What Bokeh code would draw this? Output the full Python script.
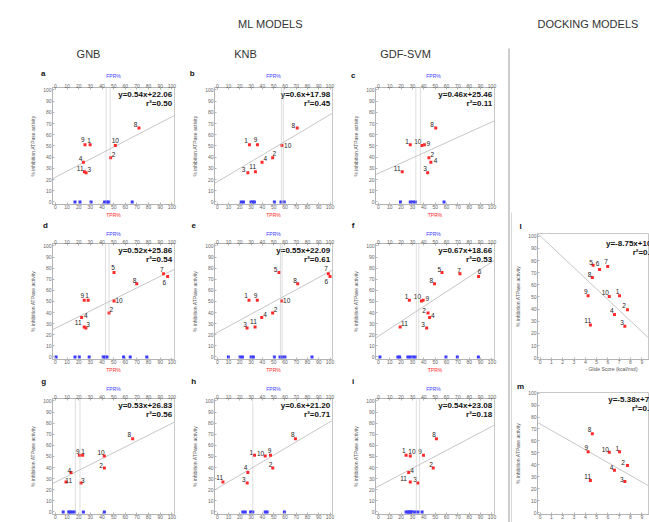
from bokeh.plotting import figure
from bokeh.layouts import row, column
from bokeh.models import Range1d, LinearAxis, Span, FixedTicker, ColumnDataSource
from bokeh.embed import file_html
from bokeh.resources import INLINE
from bokeh.core.properties import value

# ---------------- data ----------------
compounds = ["1", "2", "3", "4", "5", "6", "7", "8", "9", "10", "11"]
inhibition = [51, 39.5, 26, 35.5, 76, 72.5, 75, 66, 51, 50.5, 27]   # % inhibition ATPase activity
glide_score = [7.03, 7.73, 7.5, 6.58, 4.69, 5.26, 5.98, 4.62, 4.25, 6.12, 4.45]  # - Glide Score (kcal/mol)

a_ids = ["9", "1", "4", "11", "3", "10", "2", "8"]
a_tpr = [25.4, 29.8, 24.0, 24.9, 26.3, 51.4, 47.4, 71.7]
a_fpr = [16.8, 21.1, 30.6, 42.2, 44.2, 45.7, 65.9]
a_cut = [43.5, 47.0]
a_fit = [0.54, 22.06]
a_r2 = "0.50"

b_ids = ["1", "9", "3", "11", "4", "2", "10", "8"]
b_tpr = [28.5, 35.6, 27.1, 33.8, 39.7, 49.1, 57.4, 70.9]
b_fpr = [21.2, 23.2, 29.9, 31.5, 32.9, 50.6, 56.5, 59.4]
b_cut = [57.0, 58.6]
b_fit = [0.6, 17.98]
b_r2 = "0.45"

c_ids = ["8", "1", "10", "9", "2", "4", "3", "11"]
c_tpr = [50.5, 28.1, 38.2, 40.5, 44.5, 46.2, 43.4, 21.0]
c_fpr = [19.5, 28.1, 30.2, 32.5, 57.8]
c_cut = [33.0, 37.0]
c_fit = [0.46, 25.46]
c_r2 = "0.11"

d_ids = ["9", "1", "4", "11", "3", "5", "10", "2", "8", "7", "6"]
d_tpr = [24.7, 28.1, 22.5, 24.7, 26.1, 50.3, 50.3, 46.0, 69.8, 92.8, 96.3]
d_fpr = [0.6, 16.8, 20.5, 29.0, 41.0, 42.6, 44.3, 58.5, 64.2, 78.4]
d_cut = [43.0, 46.0]
d_fit = [0.52, 25.86]
d_r2 = "0.54"

e_ids = ["5", "7", "6", "8", "1", "9", "10", "4", "2", "3", "11"]
e_tpr = [54.7, 98.5, 100.0, 71.3, 28.1, 35.5, 57.1, 39.4, 49.1, 26.4, 33.5]
e_fpr = [9.8, 20.2, 22.3, 30.0, 32.0, 50.6, 55.6, 57.7, 60.0, 84.0]
e_cut = [56.0, 57.5]
e_fit = [0.55, 22.09]
e_r2 = "0.61"

f_ids = ["5", "7", "6", "8", "1", "10", "9", "2", "4", "3", "11"]
f_tpr = [56.0, 71.8, 88.2, 49.4, 27.3, 37.9, 39.4, 43.7, 45.1, 42.5, 19.2]
f_fpr = [1.4, 17.2, 18.7, 26.0, 28.0, 30.5, 32.5, 59.5, 69.5, 88.0]
f_cut = [33.4, 35.6]
f_fit = [0.67, 18.66]
f_r2 = "0.53"

g_ids = ["9", "1", "4", "11", "3", "10", "2", "8"]
g_tpr = [20.6, 23.4, 13.4, 9.1, 22.0, 42.0, 42.0, 66.3]
g_fpr = [6.7, 11.4, 12.6, 14.3, 16.3, 24.0, 42.0]
g_cut = [17.1, 21.1]
g_fit = [0.53, 26.83]
g_r2 = "0.56"

h_ids = ["11", "3", "4", "1", "10", "9", "2", "8"]
h_tpr = [5.0, 26.5, 27.1, 33.0, 42.5, 47.2, 49.2, 69.3]
h_fpr = [22.7, 24.8, 29.5, 31.5, 42.5, 44.2, 59.5]
h_cut = [31.5]
h_fit = [0.6, 21.20]
h_r2 = "0.71"

i_ids = ["1", "10", "9", "8", "2", "4", "11", "3"]
i_tpr = [24.4, 28.1, 39.7, 51.1, 48.3, 26.7, 28.1, 34.7]
i_fpr = [24.4, 26.0, 27.0, 28.0, 29.0, 30.0, 32.5, 35.0, 38.5]
i_cut = [33.4, 36.3]
i_fit = [0.54, 23.08]
i_r2 = "0.18"

l_ids = ["5", "6", "7", "8", "9", "10", "1", "2", "4", "3", "11"]
l_fit = [-8.75, 100.3]
l_r2 = "0.55"
m_ids = ["8", "9", "10", "1", "2", "4", "3", "11"]
m_fit = [-5.38, 74.2]
m_r2 = "0.32"

ml_ticks = [0, 10, 20, 30, 40, 50, 60, 70, 80, 90, 100]
dock_xticks = [0, 1, 2, 3, 4, 5, 6, 7, 8, 9, 10]

ML_PANELS = {
    "a": (a_ids, a_tpr, a_fpr, a_cut, a_fit, a_r2),
    "b": (b_ids, b_tpr, b_fpr, b_cut, b_fit, b_r2),
    "c": (c_ids, c_tpr, c_fpr, c_cut, c_fit, c_r2),
    "d": (d_ids, d_tpr, d_fpr, d_cut, d_fit, d_r2),
    "e": (e_ids, e_tpr, e_fpr, e_cut, e_fit, e_r2),
    "f": (f_ids, f_tpr, f_fpr, f_cut, f_fit, f_r2),
    "g": (g_ids, g_tpr, g_fpr, g_cut, g_fit, g_r2),
    "h": (h_ids, h_tpr, h_fpr, h_cut, h_fit, h_r2),
    "i": (i_ids, i_tpr, i_fpr, i_cut, i_fit, i_r2),
}

# ---------------- style (label nudges in screen px) ----------------
NUDGE = {
    "a": {"9": (-2.3, -5), "1": (-1, -4.7), "4": (-2.7, -3.7), "11": (-4.3, -3.3), "3": (3.3, -3.3),
          "10": (0, -5.3), "2": (3, -3), "8": (-3.3, -3.7)},
    "b": {"1": (-3.3, -4), "9": (-2, -5), "3": (-4.3, -3), "11": (-2.7, -4.7), "4": (3.3, -4),
          "2": (1.7, -4.7), "10": (5.7, 0), "8": (-4, -2.7)},
    "c": {"8": (-3.7, -3.3), "1": (-3.3, -3.3), "10": (-4, -4.3), "9": (4, -1.7), "2": (3.3, -3.3),
          "4": (4.7, -1.3), "3": (-2.7, -4.3), "11": (-5, -3)},
    "d": {"9": (-2, -4.5), "1": (-1, -4.5), "4": (4.3, -1.7), "11": (-6, -4.7), "3": (2.3, -3.3),
          "5": (-1, -5), "10": (5, 0), "2": (2.3, -3.3), "8": (-2.3, -3.3), "7": (-1.7, -3.7), "6": (-3.3, 5.7)},
    "e": {"5": (-3.3, -3.3), "7": (-2.3, -5), "6": (-3.7, 5), "8": (-2.7, -3.3), "1": (-3, -5),
          "9": (-1.7, -5), "10": (5, -0.7), "4": (3.3, -3), "2": (3, -3.3), "3": (-2, -4), "11": (-1.7, -5)},
    "f": {"5": (-2.7, -3), "7": (-1, -3.3), "6": (1, -4.7), "8": (-3.3, -3.3), "1": (-2.7, -4),
          "10": (-4, -4), "9": (4.3, -1.7), "2": (-4, -2.7), "4": (3.3, -2.3), "3": (-3.7, -4), "11": (4.3, -3.7)},
    "g": {"9": (-1.7, -4), "1": (0.5, -4), "4": (-1.7, -2.3), "11": (2.7, -1.7), "3": (1.7, -2.7),
          "10": (-3.3, -3.3), "2": (-3.3, -2.7), "8": (-3.3, -4)},
    "h": {"11": (-3.3, -4.3), "3": (-3.3, -3.3), "4": (-2.3, -5), "1": (-3.3, -2.7), "10": (-4.7, -2.7),
          "9": (-1, -5), "2": (-2.3, -4), "8": (-2.7, -3.7)},
    "i": {"1": (-2.3, -5), "10": (1.7, -4), "9": (-3.3, -4), "8": (-2.3, -4), "2": (-2.3, -3.3),
          "4": (3.3, -2.3), "11": (-6.7, -3.3), "3": (-2.7, -4)},
    "l": {"5": (-2, -3.3), "6": (-2, -5.7), "7": (-1.7, -4.7), "8": (-2.7, -3.3), "9": (-2.3, -4),
          "10": (-4, -3.7), "1": (-2, -4.7), "2": (-3.3, -4), "4": (-2.7, -3.7), "3": (-2.7, -3.3), "11": (-2.7, -4.7)},
    "m": {"8": (-2.7, -4), "9": (-1.7, -4), "10": (-4, -3), "1": (-2.3, -3.3), "2": (-4.3, -3.3),
          "4": (-3, -2.7), "3": (-3, -2), "11": (-2.7, -3.7)},
}

FONT = "Liberation Sans"
RED = "#ff2b2b"
BLUE = "#3b3bff"
AXIS_C = "#b4b4b4"
TICK_C = "#666666"
LINE_C = "#c6c6c6"
TXT_C = "#222222"
XR = (-2.5, 102.2)
YR = (-2.3, 102.2)


def make_axis(ticks, label, color, standoff, lab_std):
    ax = LinearAxis(ticker=FixedTicker(ticks=ticks), axis_label=label)
    ax.axis_line_color = AXIS_C
    ax.major_tick_line_color = AXIS_C
    ax.major_tick_in = 2
    ax.major_tick_out = 0
    ax.minor_tick_line_color = None
    ax.major_label_text_font = FONT
    ax.major_label_text_font_size = "5px"
    ax.major_label_text_color = TICK_C
    ax.major_label_standoff = lab_std
    ax.axis_label_text_font = FONT
    ax.axis_label_text_font_size = "5px"
    ax.axis_label_text_font_style = "normal"
    ax.axis_label_text_color = color
    ax.axis_label_standoff = standoff
    return ax


def base_fig(w, h, xr, yr, bl, br, bt, bb):
    p = figure(width=w, height=h, output_backend="svg", toolbar_location=None,
               x_range=Range1d(*xr), y_range=Range1d(*yr),
               x_axis_location=None, y_axis_location=None,
               min_border_left=bl, min_border_right=br, min_border_top=bt, min_border_bottom=bb)
    p.grid.visible = False
    p.outline_line_color = "#c8c8c8"
    p.background_fill_color = "white"
    p.border_fill_color = "white"
    return p


def add_points(p, key, ids, xs):
    ys = [inhibition[compounds.index(c)] for c in ids]
    src = ColumnDataSource(dict(x=xs, y=ys, t=ids,
                                dx=[NUDGE[key][c][0] for c in ids],
                                dy=[NUDGE[key][c][1] for c in ids]))
    p.scatter("x", "y", source=src, marker="square", size=3, fill_color=RED, line_color=None)
    p.text("x", "y", text="t", source=src, x_offset="dx", y_offset="dy",
           text_font=value(FONT), text_font_size="6.5px", text_color=TXT_C,
           text_align="center", text_baseline="middle")


def ml_panel(key, w, h, bl, br, bt, bb, bottom_label):
    ids, tpr, fpr, cut, fit, r2 = ML_PANELS[key]
    p = base_fig(w, h, XR, YR, bl, br, bt, bb)
    p.add_layout(make_axis(ml_ticks, None, BLUE, 0, 0), "above")
    p.add_layout(make_axis(ml_ticks, "TPR%" if bottom_label else None, RED, 0, 0), "below")
    p.add_layout(make_axis(ml_ticks, "% inhibition ATPase activity", "#555555", 4, 1), "left")
    for c in cut:
        p.add_layout(Span(location=c, dimension="height", line_color="#bdbdbd",
                          line_dash="1 1", line_width=1))
    p.line([XR[0], XR[1]], [fit[0] * XR[0] + fit[1], fit[0] * XR[1] + fit[1]],
           line_color=LINE_C, line_width=1)
    p.scatter(fpr, [0] * len(fpr), marker="square", size=3, fill_color=BLUE, line_color=None)
    add_points(p, key, ids, tpr)
    eq = "y=%sx+%.2f" % (("%g" % fit[0]), fit[1])
    p.text([101.5], [101.5], text=[eq], x_offset=-1.6, y_offset=5.8,
           text_font=value(FONT), text_font_size="8px", text_font_style="bold",
           text_color="#111111", text_align="right", text_baseline="middle")
    p.text([101.5], [101.5], text=["r\u00b2=" + r2], x_offset=-1.6, y_offset=15.2,
           text_font=value(FONT), text_font_size="8px", text_font_style="bold",
           text_color="#111111", text_align="right", text_baseline="middle")
    return p


DXR = (-0.23, 9.68)


def dock_panel(key, ids, fit, r2, h, bt, bb, yr, eq_pos, r2_pos):
    p = base_fig(137, h, DXR, yr, 22, 0, bt, bb)
    p.add_layout(make_axis(ml_ticks, "% inhibition ATPase activity", "#555555", 4, 1), "left")
    p.add_layout(make_axis(dock_xticks, None, TICK_C, 0, 0), "below")
    p.line([DXR[0], DXR[1]], [fit[0] * DXR[0] + fit[1], fit[0] * DXR[1] + fit[1]],
           line_color=LINE_C, line_width=1)
    xs = [glide_score[compounds.index(c)] for c in ids]
    add_points(p, key, ids, xs)
    eq = "y=%.2fx+%.1f" % (fit[0], fit[1])
    p.text([eq_pos[0]], [eq_pos[1]], text=[eq], text_font=value(FONT), text_font_size="8px",
           text_font_style="bold", text_color="#111111", text_align="left", text_baseline="middle")
    p.text([r2_pos[0]], [r2_pos[1]], text=["r\u00b2=" + r2], text_font=value(FONT), text_font_size="8px",
           text_font_style="bold", text_color="#111111", text_align="left", text_baseline="middle")
    return p


def blank(w, h):
    p = figure(width=w, height=h, output_backend="svg", toolbar_location=None,
               x_range=Range1d(0, w), y_range=Range1d(h, 0),
               x_axis_location=None, y_axis_location=None, min_border=0,
               min_border_left=0, min_border_right=0, min_border_top=0, min_border_bottom=0)
    try:
        p.frame_align = False          # keep this text strip out of the frame alignment
    except Exception:
        pass
    p.grid.visible = False
    p.outline_line_color = None
    p.background_fill_color = "white"
    p.border_fill_color = "white"
    return p


def put_text(p, x, y, txt, size="11px", color="#333333", align="center", style="normal"):
    p.text([x], [y], text=[txt], text_font=value(FONT), text_font_size=size,
           text_color=color, text_align=align, text_baseline="middle", text_font_style=style)


def strip(w, h, letter, lx, ly, fx, fy):
    s = blank(w, h)
    put_text(s, lx, ly, letter, size="8px", color="#111111", style="bold")
    put_text(s, fx, fy, "FPR%", size="5px", color=BLUE)
    return s


# ---------------- headers ----------------
h1 = blank(188, 64)
put_text(h1, 88, 53, "GNB")
h2 = blank(162, 64)
put_text(h2, 82, 23, "ML MODELS")
put_text(h2, 57, 53, "KNB")
h3 = blank(153, 64)
put_text(h3, 55, 53, "GDF-SVM")

h4 = blank(137, 230)
put_text(h4, 25, 23, "DOCKING MODELS", align="left")
put_text(h4, 8, 226, "l", size="8px", color="#111111", style="bold")

sep = blank(9, 522)
sep.segment([5.5], [48], [5.5], [522], line_color="#9a9a9a", line_width=1)
sep.segment([8.5], [212], [8.5], [522], line_color="#b0b0b0", line_width=1)

# ---------------- ML panels ----------------
s_a = strip(188, 16, "a", 42.7, 9.3, 113, 11)
s_b = strip(162, 16, "b", 3.7, 9.3, 85, 11)
s_c = strip(153, 16, "c", 2.7, 11, 83, 11)
pa = ml_panel("a", 188, 140, 52, 14, 7, 16, True)
pb = ml_panel("b", 162, 140, 26, 18, 7, 16, True)
pc = ml_panel("c", 153, 140, 22, 9, 7, 16, True)

s_d = strip(188, 16, "d", 45, 5, 113, 13.5)
s_e = strip(162, 16, "e", 5.3, 5, 85, 13.5)
s_f = strip(153, 16, "f", 2.7, 5, 83, 13.5)
pd = ml_panel("d", 188, 140, 52, 14, 6, 17, True)
pe = ml_panel("e", 162, 140, 26, 18, 6, 17, True)
pf = ml_panel("f", 153, 140, 22, 9, 6, 17, True)

s_g = strip(188, 15, "g", 43.3, 5, 113, 12.8)
s_h = strip(162, 15, "h", 5.3, 5, 85, 12.8)
s_i = strip(153, 15, "i", 2.7, 5, 83, 12.8)
pg = ml_panel("g", 188, 131, 52, 14, 6, 8, False)
ph = ml_panel("h", 162, 131, 26, 18, 6, 8, False)
pi = ml_panel("i", 153, 131, 22, 9, 6, 8, False)

# ---------------- docking panels ----------------
pl = dock_panel("l", l_ids, l_fit, l_r2, 136, 3, 7, (-1.4, 102.2), (5.83, 94.2), (8.19, 86.6))
s_lm = blank(137, 24)
put_text(s_lm, 99, 2.9, "- Glide Score (kcal/mol)", size="5px", color="#555555")
put_text(s_lm, 8, 19.7, "m", size="8px", color="#111111", style="bold")
pm = dock_panel("m", m_ids, m_fit, m_r2, 132, 2, 8, (-1.5, 100.5), (6.03, 95.0), (8.13, 87.5))

layout = row(column(h1, s_a, pa, s_d, pd, s_g, pg),
             column(h2, s_b, pb, s_e, pe, s_h, ph),
             column(h3, s_c, pc, s_f, pf, s_i, pi),
             sep,
             column(h4, pl, s_lm, pm))

open("out.html", "w").write(file_html(layout, INLINE))
